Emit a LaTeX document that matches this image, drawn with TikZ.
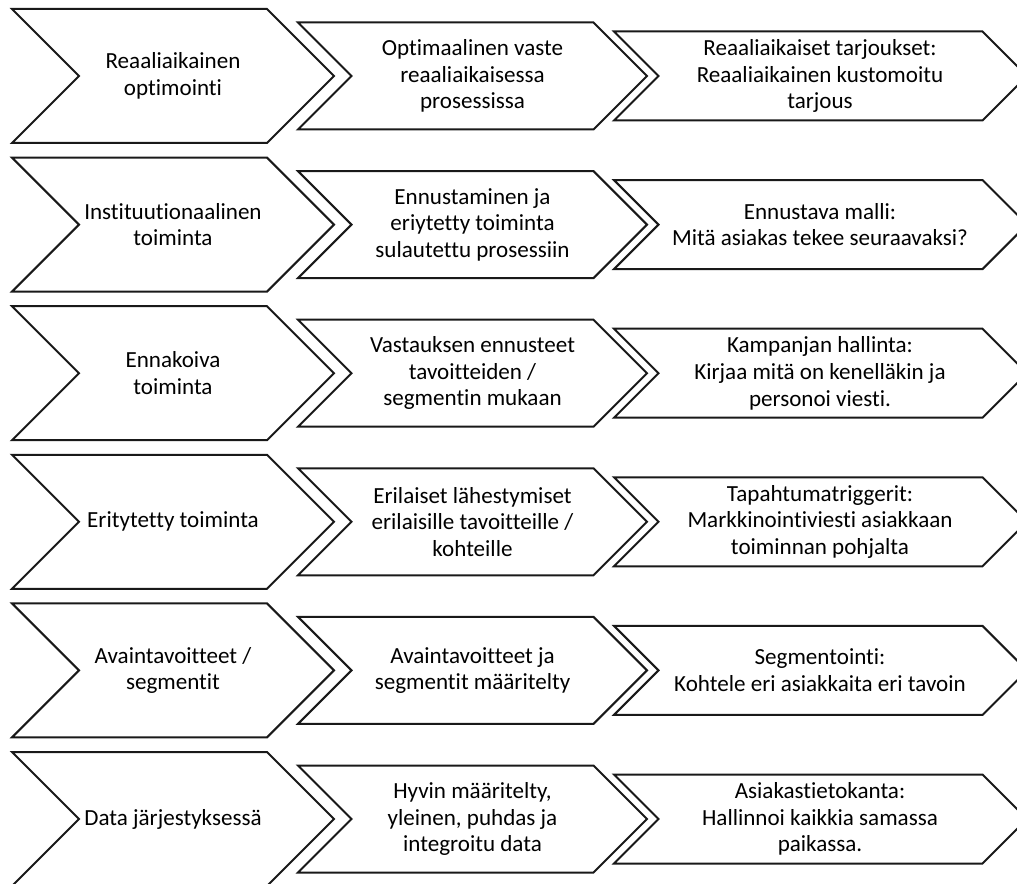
\documentclass[tikz,border=0pt]{standalone}
\usepackage{fontspec}
\setmainfont{Carlito}[RawFeature={-liga}]
\newcommand\mychev[5]{% cy, left, right, half-height
  \draw[chev] (#2,#1-#4) -- (#3-#4,#1-#4) -- (#3,#1) -- (#3-#4,#1+#4) -- (#2,#1+#4) -- (#2+#4,#1) -- cycle;}
\tikzset{
  chev/.style={draw=black!90, line width=1.5pt, line join=miter, fill=white},
  lbl/.style={align=center, inner sep=0pt, text=black, font=\fontsize{17.3}{20}\selectfont}
}
\begin{document}
\begin{tikzpicture}[x=0.75pt,y=-0.75pt]
\useasboundingbox (0,0) rectangle (1017,884);
\clip (0,0) rectangle (1017,884);
\foreach \cy in {76,224.6,373.2,521.8,670.4,819}{
  \mychev{\cy}{12}{334}{67}{}
  \mychev{\cy}{298}{647}{53.5}{}
  \mychev{\cy}{614}{1027}{44.5}{}
}
% row 1
\node[lbl] (r1a) at (173,76) {Reaaliaikainen\\optimointi};
\node[lbl] (r1b) at (472.5,76) {Optimaalinen vaste\\reaaliaikaisessa\\prosessissa};
\node[lbl] (r1c) at (820,76) {Reaaliaikaiset tarjoukset:\\Reaaliaikainen kustomoitu\\tarjous};
% row 2
\node[lbl] (r2a) at (173,224.6) {Instituutionaalinen\\toiminta};
\node[lbl] (r2b) at (472.5,224.6) {Ennustaminen ja\\eriytetty toiminta\\sulautettu prosessiin};
\node[lbl] (r2c) at (820,224.6) {Ennustava malli:\\Mitä asiakas tekee seuraavaksi?};
% row 3
\node[lbl] (r3a) at (173,373.2) {Ennakoiva\\toiminta};
\node[lbl] (r3b) at (472.5,373.2) {Vastauksen ennusteet\\tavoitteiden /\\segmentin mukaan};
\node[lbl] (r3c) at (820,373.2) {Kampanjan hallinta:\\Kirjaa mitä on kenelläkin ja\\personoi viesti.};
% row 4
\node[lbl] (r4a) at (173,521.8) {Eritytetty toiminta};
\node[lbl] (r4b) at (472.5,521.8) {Erilaiset lähestymiset\\erilaisille tavoitteille /\\kohteille};
\node[lbl] (r4c) at (820,521.8) {Tapahtumatriggerit:\\Markkinointiviesti asiakkaan\\toiminnan pohjalta};
% row 5
\node[lbl] (r5a) at (173,670.4) {Avaintavoitteet /\\segmentit};
\node[lbl] (r5b) at (472.5,670.4) {Avaintavoitteet ja\\segmentit määritelty};
\node[lbl] (r5c) at (820,670.4) {Segmentointi:\\Kohtele eri asiakkaita eri tavoin};
% row 6
\node[lbl] (r6a) at (173,819) {Data järjestyksessä};
\node[lbl] (r6b) at (472.5,819) {Hyvin määritelty,\\yleinen, puhdas ja\\integroitu data};
\node[lbl] (r6c) at (820,819) {Asiakastietokanta:\\Hallinnoi kaikkia samassa\\paikassa.};
\end{tikzpicture}
\end{document}
